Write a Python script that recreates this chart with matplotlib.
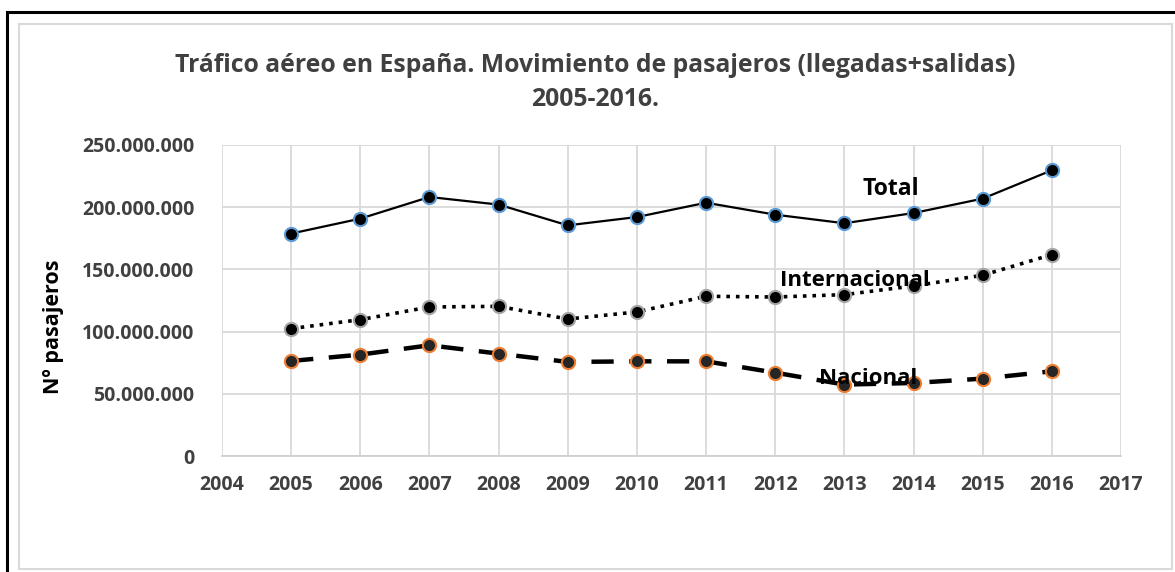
import numpy as np
import matplotlib.pyplot as plt
from matplotlib.patches import Rectangle
from matplotlib.ticker import FuncFormatter

years = [2005, 2006, 2007, 2008, 2009, 2010, 2011, 2012, 2013, 2014, 2015, 2016]
total = [178.8, 190.8, 208.2, 202.1, 185.4, 192.1, 203.6, 194.0, 187.1, 195.3, 206.9, 229.7]
internacional = [102.4, 109.6, 119.8, 120.3, 110.1, 115.8, 128.4, 127.8, 129.7, 136.7, 145.3, 161.9]
nacional = [76.4, 81.5, 89.0, 82.3, 75.6, 76.1, 76.1, 67.0, 57.4, 58.7, 62.2, 68.1]

total = np.array(total) * 1e6
internacional = np.array(internacional) * 1e6
nacional = np.array(nacional) * 1e6

plt.rcParams['font.family'] = ['Open Sans', 'DejaVu Sans']
plt.rcParams['font.weight'] = 'bold'

fig = plt.figure(figsize=(11.75, 5.72), dpi=100)
W, H = 1175, 572

# outer borders (black frame + grey chart area frame)
fig.patches.append(Rectangle((7 / W, -0.05), 1.1, 1 - 12 / H + 0.05, transform=fig.transFigure,
                             fill=False, ec='black', lw=2.2))
fig.patches.append(Rectangle((19 / W, 1 - 569 / H), (1172 - 19) / W, (569 - 24) / H,
                             transform=fig.transFigure, fill=False, ec='#d9d9d9', lw=1.5))

ax = fig.add_axes([222 / W, 1 - 456 / H, (1121 - 222) / W, (456 - 145) / H])

ax.plot(years, total, '-', color='black', lw=1.6, marker='o', ms=9.5,
        mfc='black', mec='#5b9bd5', mew=1.5, zorder=3)
ax.plot(years, internacional, ':', color='black', lw=2.6, marker='o', ms=9.5,
        mfc='black', mec='#a5a5a5', mew=1.5, zorder=3)
ax.plot(years, nacional, color='black', lw=3.2, dashes=(5, 3.5), marker='o', ms=9.5,
        mfc='#262626', mec='#ed7d31', mew=1.5, zorder=3)

ax.set_xlim(2004, 2017)
ax.set_ylim(0, 250e6)
ax.set_xticks(range(2004, 2018))
ax.set_yticks(np.arange(0, 250e6 + 1, 50e6))
ax.yaxis.set_major_formatter(FuncFormatter(lambda v, p: f'{int(v):,}'.replace(',', '.')))
ax.grid(True, color='#d9d9d9', lw=1.3)
ax.set_axisbelow(True)
for s in ['top', 'right', 'left']:
    ax.spines[s].set_visible(False)
ax.spines['bottom'].set_color('#d0d0d0')
ax.spines['bottom'].set_linewidth(1.3)
ax.tick_params(length=0, labelsize=14, labelcolor='#404040', pad=14)
ax.tick_params(axis='y', pad=20)
for lbl in ax.get_xticklabels() + ax.get_yticklabels():
    lbl.set_fontweight('bold')

ax.text(2013.26, 215e6, 'Total', fontsize=16.5, fontweight='bold', ha='left', va='center')
ax.text(2013.15, 141e6, 'Internacional', fontsize=16, fontweight='bold', ha='center', va='center')
ax.text(2013.34, 62e6, 'Nacional', fontsize=16, fontweight='bold', ha='center', va='center')

fig.text(53 / W, 1 - 327 / H, 'Nº pasajeros', rotation=90, fontsize=15.5, fontweight='bold',
         ha='center', va='center', color='black')
fig.text(595 / W, 1 - 65 / H, 'Tráfico aéreo en España. Movimiento de pasajeros (llegadas+salidas)',
         fontsize=17.8, fontweight='bold', ha='center', va='center', color='#404040')
fig.text(595 / W, 1 - 100 / H, '2005-2016.', fontsize=17.8, fontweight='bold',
         ha='center', va='center', color='#404040')

fig.savefig('out.png', dpi=100)
